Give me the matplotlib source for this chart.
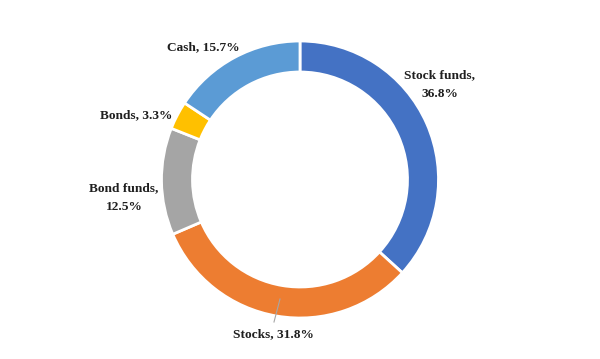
import matplotlib.pyplot as plt

# Data ----------------------------------------------------------------------
categories = ['Stock funds', 'Stocks', 'Bond funds', 'Bonds', 'Cash']
shares = [36.8, 31.8, 12.5, 3.3, 15.7]
colors = ['#4472C4', '#ED7D31', '#A5A5A5', '#FFC000', '#5B9BD5']

# label text as it appears (some wrapped onto two lines)
label_text = ['Stock funds,\n36.8%', 'Stocks, 31.8%', 'Bond funds,\n12.5%',
              'Bonds, 3.3%', 'Cash, 15.7%']

# Layout (pixel space, y up) -------------------------------------------------
W, H = 600, 359
cx, cy = 300, H - 179.5
r_out = 138.5
ring = 31

label_pos = [(440, H - 84.5), (273, H - 334), (124, H - 197.5), (136.5, H - 115), (203.5, H - 47)]

fig = plt.figure(figsize=(6, 3.59), dpi=100)
ax = fig.add_axes([0, 0, 1, 1])

wedges, _ = ax.pie(shares, colors=colors, startangle=90, counterclock=False,
                   center=(cx, cy), radius=r_out,
                   wedgeprops=dict(width=ring, edgecolor='white', linewidth=2))

ax.set_xlim(0, W)
ax.set_ylim(0, H)
ax.set_aspect('equal')
ax.axis('off')

for txt, (x, y) in zip(label_text, label_pos):
    ax.text(x, y, txt, ha='center', va='center', fontsize=9.6, fontweight='bold',
            color='#1f1f1f', family='Liberation Serif', linespacing=1.85)

# leader line for the Stocks label
ax.plot([280, 274], [H - 299, H - 322], color='#A6A6A6', linewidth=0.8)

fig.savefig('out.png', dpi=100, facecolor='white')
